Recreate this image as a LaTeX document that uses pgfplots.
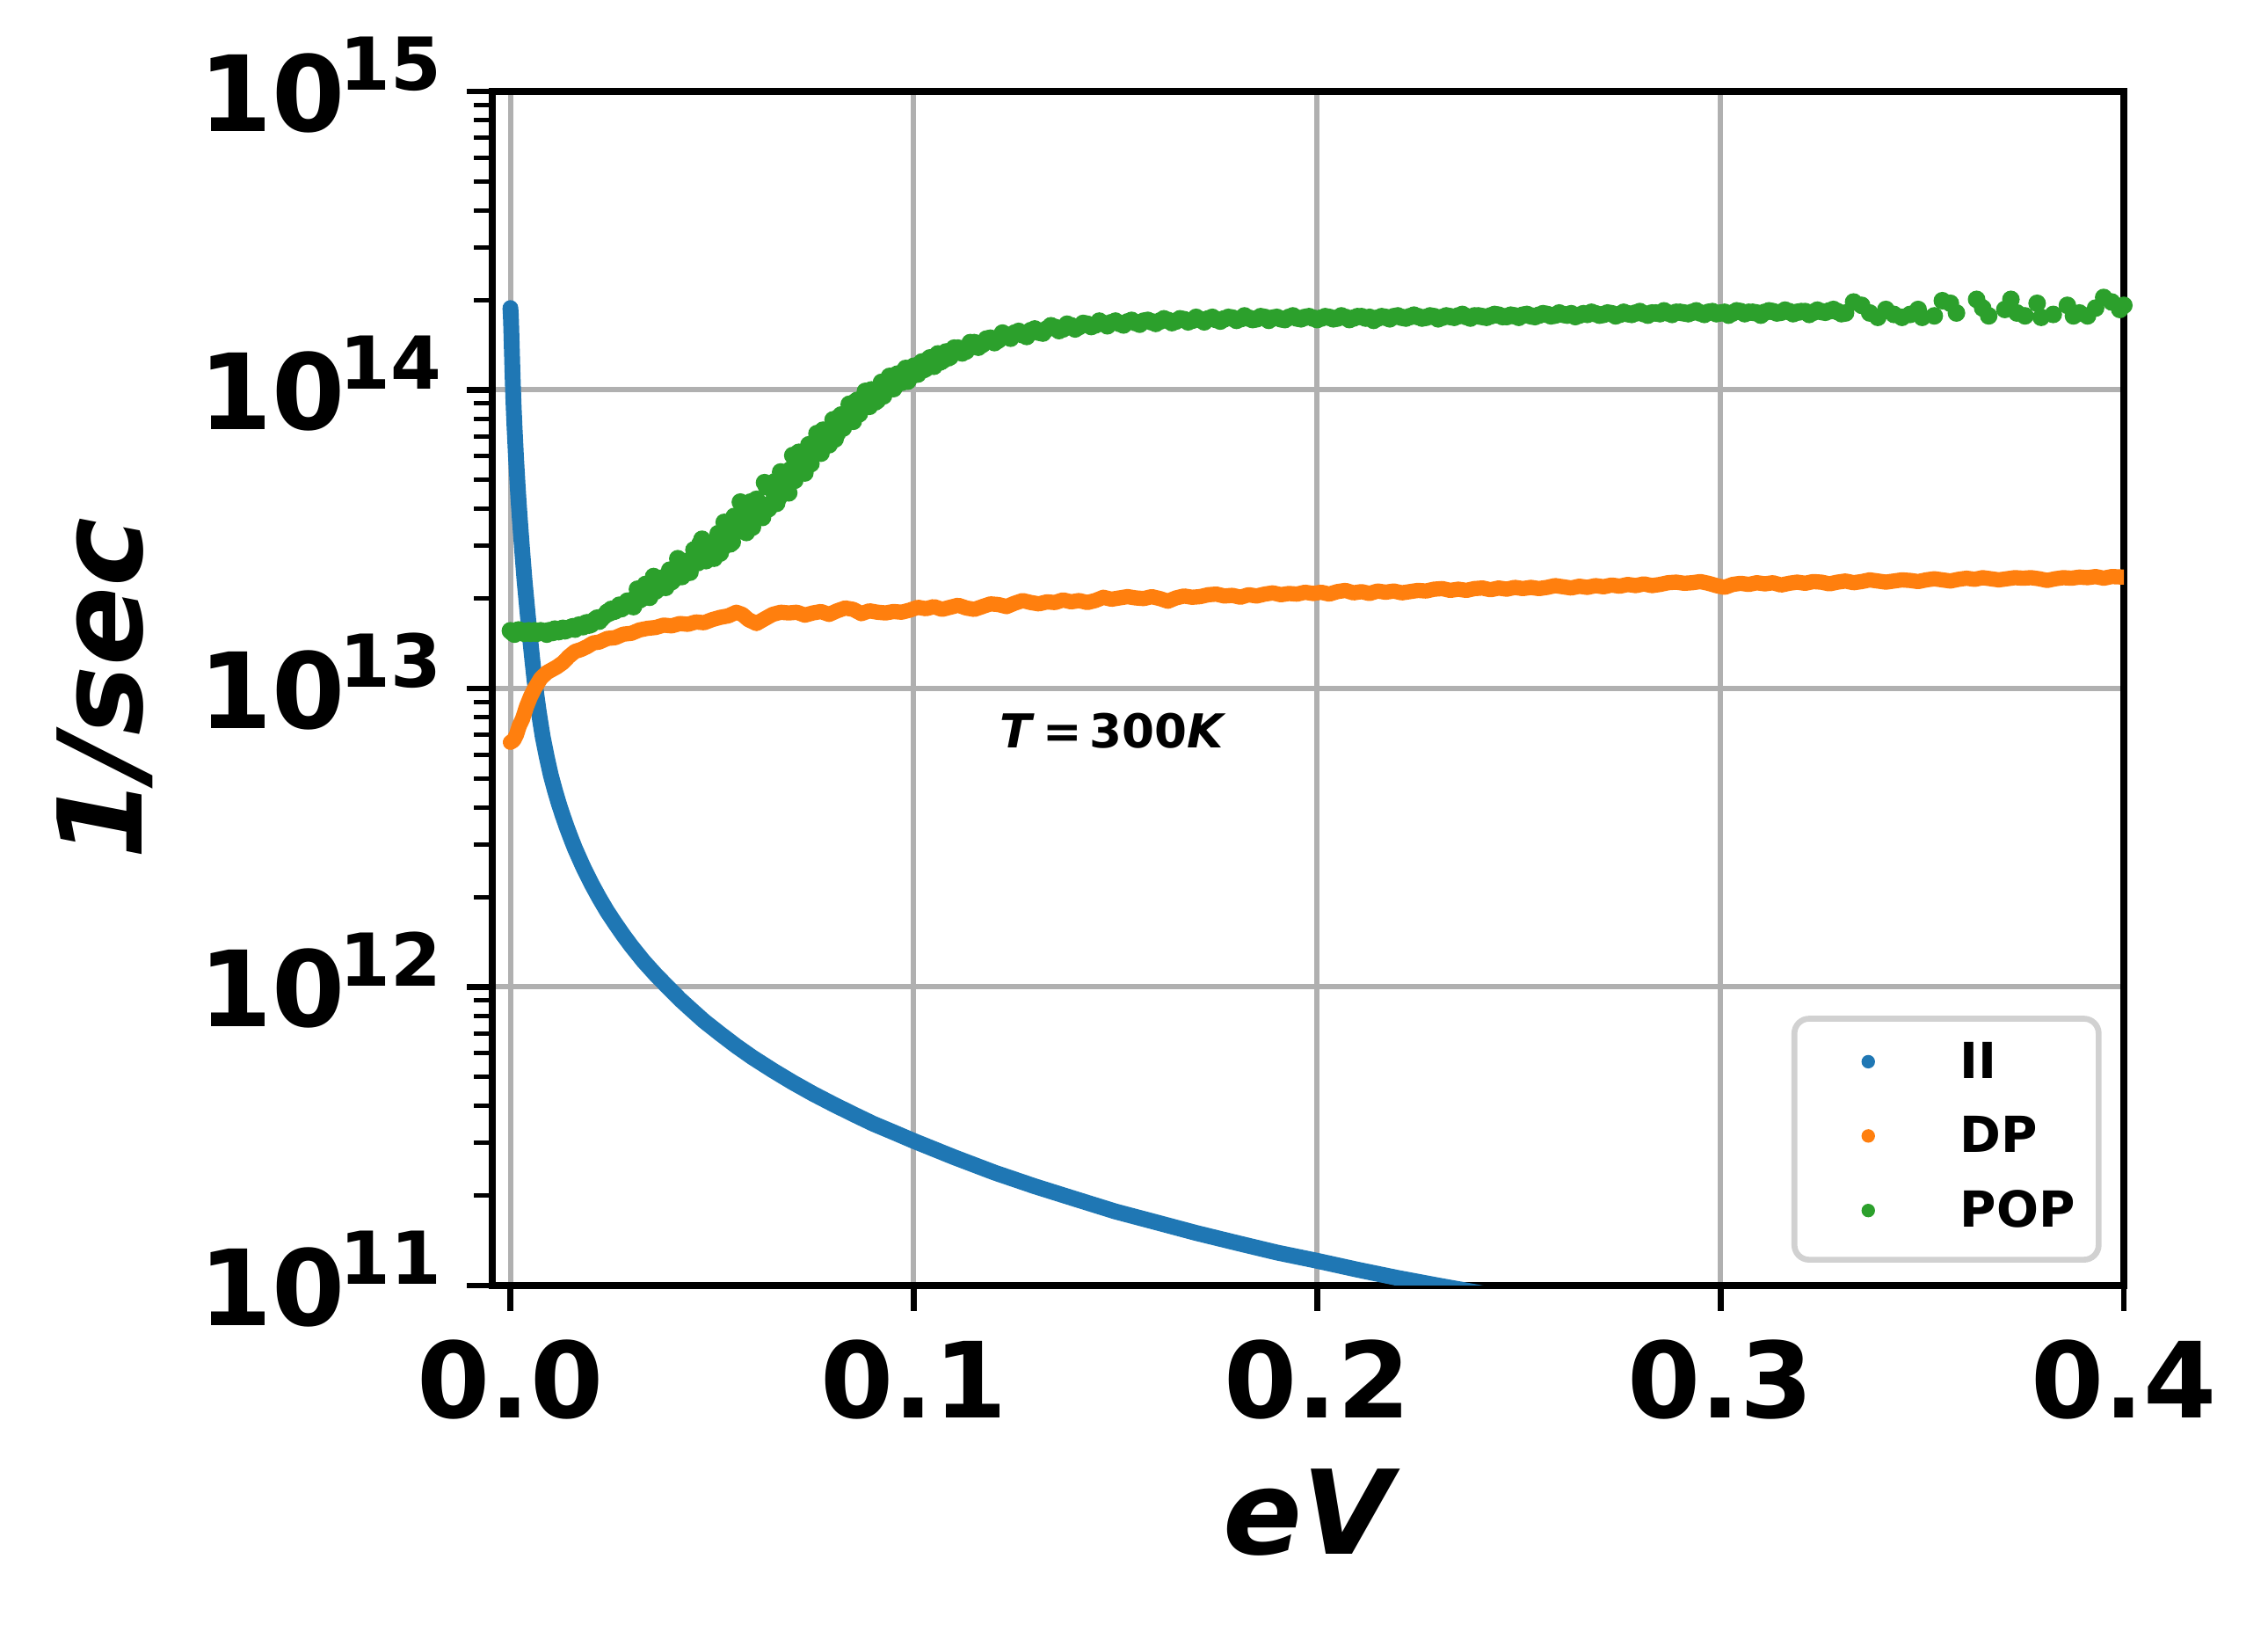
\documentclass[border=0pt]{standalone}
\usepackage{fontspec}
\setmainfont{DejaVu Sans}
\usepackage{pgfplots}
\pgfplotsset{compat=1.18}
\definecolor{c1}{HTML}{1F77B4}
\definecolor{c2}{HTML}{FF7F0E}
\definecolor{c3}{HTML}{2CA02C}
\newcommand{\tl}[1]{\fontsize{18}{18}\selectfont\bfseries 10\kern-0.9bp\raisebox{7bp}{\fontsize{12.5}{12.5}\selectfont\bfseries #1}}
\begin{document}
\begin{tikzpicture}
\useasboundingbox (-84bp,-59.1bp) rectangle (303bp,219.3bp);
\begin{axis}[
  at={(0,0)}, anchor=south west,
  scale only axis, width=278.4bp, height=203.7bp,
  xmin=-0.0045, xmax=0.4,
  ymode=log, ymin=1e11, ymax=1e15,
  xtick={0,0.1,0.2,0.3,0.4},
  xticklabels={0.0,0.1,0.2,0.3,0.4},
  ytick={1e11,1e12,1e13,1e14,1e15},
  yticklabels={\tl{11},\tl{12},\tl{13},\tl{14},\tl{15}},
  minor ytick={2e11,3e11,4e11,5e11,6e11,7e11,8e11,9e11,2e12,3e12,4e12,5e12,6e12,7e12,8e12,9e12,2e13,3e13,4e13,5e13,6e13,7e13,8e13,9e13,2e14,3e14,4e14,5e14,6e14,7e14,8e14,9e14},
  xtick pos=lower, ytick pos=lower,
  tick align=outside,
  major tick length=4.35bp, minor tick length=3.1bp,
  major tick style={line width=1bp, black},
  minor tick style={line width=0.75bp, black},
  axis line style={line width=1.1bp, black},
  grid=major,
  major grid style={line width=0.9bp, color=black!31},
  xticklabel style={font=\fontsize{18}{18}\selectfont\bfseries, anchor=north, inner sep=0pt, yshift=-4.8bp},
  yticklabel style={anchor=base east, inner sep=0pt, xshift=-4.1bp, yshift=-6.8bp},
  every axis x label/.style={at={(axis description cs:0.5,0)}, anchor=base, yshift=-45.9bp},
  every axis y label/.style={at={(axis description cs:0,0.5)}, rotate=90, anchor=base, yshift=59.7bp},
  xlabel={\fontsize{20}{20}\selectfont\bfseries\itshape eV},
  ylabel={\fontsize{20}{20}\selectfont\bfseries\itshape 1/sec},
  legend style={at={(axis description cs:1,0)}, anchor=south east, xshift=-3.8bp, yshift=3.9bp,
    draw=black!18, line width=1bp, rounded corners=2.5bp, fill=white,
    inner xsep=4bp, inner ysep=4bp,
    font=\fontsize{8.5}{8.5}\selectfont\bfseries,
    row sep=5bp, column sep=14.55bp,
    nodes={inner sep=0pt}},
  legend cell align=left,
]
\addplot[c1, line width=2.7bp, line cap=round, line join=round,
  legend image code/.code={\path[draw=none] (-8.6bp,0.5bp) -- (0bp,0.5bp); \fill[c1, draw=none] (0bp,0.5bp) circle (1.15bp);}]
coordinates {(0,1.88e14) (0.0001,1.78e14) (0.0002,1.62e14) (0.0003,1.45e14) (0.0004,1.3e14) (0.0005,1.16e14) (0.0006,1.05e14) (0.0007,9.6e13) (0.0008,8.8e13) (0.001,7.6e13) (0.0012,6.7e13) (0.0014,5.9e13) (0.0016,5.3e13) (0.0018,4.75e13) (0.002,4.3e13) (0.0023,3.75e13) (0.0026,3.3e13) (0.003,2.8e13) (0.0035,2.3e13) (0.004,1.95e13) (0.0045,1.65e13) (0.005,1.42e13) (0.0055,1.22e13) (0.006,1.06e13) (0.0065,9.4e12) (0.007,8.4e12) (0.0075,7.6e12) (0.008,6.9e12) (0.009,5.9e12) (0.01,5.13e12) (0.011,4.57e12) (0.012,4.11e12) (0.013,3.74e12) (0.014,3.42e12) (0.015,3.15e12) (0.016,2.91e12) (0.018,2.53e12) (0.02,2.23e12) (0.022,1.99e12) (0.024,1.79e12) (0.026,1.63e12) (0.028,1.49e12) (0.03,1.37e12) (0.033,1.22e12) (0.036,1.10e12) (0.039,1.0e12) (0.042,9.10e11) (0.045,8.36e11) (0.048,7.69e11) (0.052,6.97e11) (0.056,6.34e11) (0.06,5.81e11) (0.065,5.26e11) (0.07,4.79e11) (0.075,4.39e11) (0.08,4.05e11) (0.085,3.75e11) (0.09,3.48e11) (0.095,3.26e11) (0.1,3.05e11) (0.11,2.69e11) (0.12,2.39e11) (0.13,2.15e11) (0.14,1.95e11) (0.15,1.77e11) (0.16,1.63e11) (0.17,1.50e11) (0.18,1.39e11) (0.19,1.29e11) (0.2,1.21e11) (0.21,1.13e11) (0.22,1.06e11) (0.23,1.0e11) (0.25,8.95e10)};
\addlegendentry{II}
\addplot[c2, line width=2.6bp, line cap=round, line join=round,
  legend image code/.code={\path[draw=none] (-8.6bp,0.5bp) -- (0bp,0.5bp); \fill[c2, draw=none] (0bp,0.5bp) circle (1.15bp);}]
coordinates {(0,6.6e12) (0.0008,6.7e12) (0.0015,7.0e12) (0.0022,7.5e12) (0.003,7.9e12) (0.004,8.7e12) (0.005,9.4e12) (0.006,1.0e13) (0.0075,1.08e13) (0.009,1.13e13) (0.01,1.15e13) (0.0115,1.18e13) (0.013,1.22e13) (0.0145,1.28e13) (0.016,1.33e13) (0.0175,1.35e13) (0.019,1.38e13) (0.0205,1.42e13) (0.022,1.43e13) (0.024,1.47e13) (0.026,1.48e13) (0.028,1.52e13) (0.03,1.53e13) (0.032,1.57e13) (0.034,1.59e13) (0.036,1.60e13) (0.038,1.63e13) (0.04,1.62e13) (0.042,1.65e13) (0.044,1.64e13) (0.046,1.67e13) (0.048,1.66e13) (0.05,1.70e13) (0.052,1.73e13) (0.054,1.75e13) (0.056,1.80e13) (0.0575,1.77e13) (0.059,1.70e13) (0.061,1.65e13) (0.063,1.71e13) (0.065,1.77e13) (0.067,1.80e13) (0.069,1.79e13) (0.071,1.80e13) (0.073,1.76e13) (0.075,1.79e13) (0.077,1.81e13) (0.079,1.77e13) (0.081,1.82e13) (0.083,1.86e13) (0.085,1.84e13) (0.087,1.78e13) (0.089,1.82e13) (0.091,1.80e13) (0.093,1.79e13) (0.095,1.81e13) (0.097,1.80e13) (0.099,1.83e13) (0.101,1.87e13) (0.103,1.85e13) (0.105,1.88e13) (0.107,1.84e13) (0.109,1.87e13) (0.111,1.90e13) (0.113,1.86e13) (0.115,1.84e13) (0.117,1.88e13) (0.119,1.92e13) (0.121,1.91e13) (0.123,1.88e13) (0.125,1.93e13) (0.127,1.97e13) (0.129,1.94e13) (0.131,1.92e13) (0.133,1.95e13) (0.135,1.94e13) (0.137,1.98e13) (0.139,1.95e13) (0.141,1.97e13) (0.143,1.94e13) (0.145,1.97e13) (0.147,2.02e13) (0.149,1.99e13) (0.151,2.01e13) (0.153,2.03e13) (0.155,2.01e13) (0.157,2.00e13) (0.159,2.03e13) (0.161,2.00e13) (0.163,1.96e13) (0.165,2.01e13) (0.167,2.04e13) (0.169,2.02e13) (0.171,2.03e13) (0.173,2.06e13) (0.175,2.07e13) (0.177,2.04e13) (0.179,2.05e13) (0.181,2.02e13) (0.183,2.06e13) (0.185,2.04e13) (0.187,2.07e13) (0.189,2.09e13) (0.191,2.06e13) (0.193,2.08e13) (0.195,2.07e13) (0.197,2.10e13) (0.199,2.08e13) (0.201,2.10e13) (0.203,2.07e13) (0.205,2.11e13) (0.207,2.13e13) (0.209,2.09e13) (0.211,2.11e13) (0.213,2.08e13) (0.215,2.12e13) (0.217,2.10e13) (0.219,2.12e13) (0.221,2.09e13) (0.223,2.11e13) (0.225,2.13e13) (0.227,2.12e13) (0.229,2.15e13) (0.231,2.16e13) (0.233,2.13e13) (0.235,2.15e13) (0.237,2.13e13) (0.239,2.16e13) (0.241,2.17e13) (0.243,2.14e13) (0.245,2.17e13) (0.247,2.15e13) (0.249,2.18e13) (0.251,2.16e13) (0.253,2.18e13) (0.255,2.16e13) (0.257,2.18e13) (0.259,2.21e13) (0.261,2.19e13) (0.263,2.17e13) (0.265,2.20e13) (0.267,2.18e13) (0.269,2.21e13) (0.271,2.19e13) (0.273,2.22e13) (0.275,2.20e13) (0.277,2.23e13) (0.279,2.21e13) (0.281,2.24e13) (0.283,2.21e13) (0.285,2.23e13) (0.287,2.26e13) (0.289,2.27e13) (0.291,2.25e13) (0.293,2.26e13) (0.295,2.28e13) (0.297,2.25e13) (0.299,2.21e13) (0.301,2.18e13) (0.303,2.23e13) (0.305,2.25e13) (0.307,2.23e13) (0.309,2.26e13) (0.311,2.24e13) (0.313,2.26e13) (0.315,2.22e13) (0.317,2.25e13) (0.319,2.27e13) (0.321,2.25e13) (0.323,2.28e13) (0.325,2.27e13) (0.327,2.24e13) (0.329,2.27e13) (0.331,2.29e13) (0.333,2.26e13) (0.335,2.28e13) (0.337,2.31e13) (0.339,2.29e13) (0.341,2.27e13) (0.343,2.29e13) (0.345,2.31e13) (0.347,2.30e13) (0.349,2.28e13) (0.351,2.31e13) (0.353,2.33e13) (0.355,2.31e13) (0.357,2.29e13) (0.359,2.32e13) (0.361,2.34e13) (0.363,2.32e13) (0.365,2.35e13) (0.367,2.33e13) (0.369,2.31e13) (0.371,2.33e13) (0.373,2.35e13) (0.375,2.34e13) (0.377,2.35e13) (0.379,2.33e13) (0.381,2.30e13) (0.383,2.33e13) (0.385,2.35e13) (0.387,2.34e13) (0.389,2.36e13) (0.391,2.35e13) (0.393,2.37e13) (0.395,2.34e13) (0.397,2.37e13) (0.4,2.36e13)};
\addlegendentry{DP}
\addplot[only marks, mark=*, mark size=1.3bp, color=c3, mark options={draw=none, fill=c3},
  legend image code/.code={\path[draw=none] (-8.6bp,0.5bp) -- (0bp,0.5bp); \fill[c3, draw=none] (0bp,0.5bp) circle (1.15bp);}]
coordinates {(0,1.56e13) (0.001,1.52e13) (0.002,1.57e13) (0.003,1.54e13) (0.004,1.55e13) (0.005,1.53e13) (0.006,1.56e13) (0.007,1.54e13) (0.008,1.55e13) (0.009,1.52e13) (0.01,1.56e13) (0.011,1.58e13) (0.012,1.55e13) (0.013,1.59e13) (0.014,1.57e13) (0.015,1.60e13) (0.016,1.58e13) (0.017,1.63e13) (0.018,1.61e13) (0.019,1.66e13) (0.02,1.64e13) (0.021,1.70e13) (0.022,1.68e13) (0.023,1.74e13) (0.024,1.80e13) (0.025,1.84e13) (0.026,1.82e13) (0.027,1.90e13) (0.028,1.87e13) (0.029,1.96e13) (0.03,1.93e13) (0.031,2.01e13) (0.032,1.98e13) (0.033,2.10e13) (0.034,2.05e13) (0.035,2.20e13) (0.036,2.12e13) (0.037,2.30e13) (0.038,2.22e13) (0.039,2.40e13) (0.04,2.28e13) (0.041,2.48e13) (0.042,2.40e13) (0.043,2.62e13) (0.044,2.46e13) (0.045,2.62e13) (0.046,2.78e13) (0.047,3.05e13) (0.048,2.72e13) (0.049,2.95e13) (0.05,2.86e13) (0.051,3.03e13) (0.052,2.84e13) (0.053,3.60e13) (0.054,3.22e13) (0.055,3.09e13) (0.056,3.65e13) (0.057,4.21e13) (0.058,3.44e13) (0.059,3.87e13) (0.06,3.47e13) (0.061,4.30e13) (0.062,3.94e13) (0.063,4.89e13) (0.064,4.00e13) (0.065,4.62e13) (0.066,4.17e13) (0.067,5.31e13) (0.068,4.90e13) (0.069,4.52e13) (0.07,6.03e13) (0.071,5.18e13) (0.072,6.00e13) (0.073,5.27e13) (0.074,6.55e13) (0.075,6.03e13) (0.076,7.14e13) (0.077,6.14e13) (0.078,7.11e13) (0.079,6.55e13) (0.08,7.94e13) (0.081,7.13e13) (0.082,8.24e13) (0.083,7.74e13) (0.084,8.95e13) (0.085,7.85e13) (0.086,9.23e13) (0.087,8.61e13) (0.088,9.89e13) (0.089,8.81e13) (0.09,9.89e13) (0.091,9.23e13) (0.092,1.06e14) (0.093,9.89e13) (0.094,1.11e14) (0.095,1.01e14) (0.096,1.13e14) (0.097,1.06e14) (0.098,1.18e14) (0.099,1.10e14) (0.1,1.20e14) (0.101,1.13e14) (0.102,1.24e14) (0.103,1.18e14) (0.104,1.28e14) (0.105,1.20e14) (0.106,1.32e14) (0.107,1.25e14) (0.108,1.34e14) (0.109,1.29e14) (0.11,1.38e14) (0.112,1.33e14) (0.114,1.44e14) (0.116,1.39e14) (0.118,1.48e14) (0.12,1.44e14) (0.122,1.55e14) (0.124,1.49e14) (0.126,1.57e14) (0.128,1.51e14) (0.13,1.60e14) (0.132,1.55e14) (0.134,1.64e14) (0.136,1.58e14) (0.138,1.66e14) (0.14,1.60e14) (0.142,1.67e14) (0.144,1.63e14) (0.146,1.70e14) (0.148,1.64e14) (0.15,1.70e14) (0.152,1.65e14) (0.154,1.71e14) (0.156,1.66e14) (0.158,1.71e14) (0.16,1.67e14) (0.162,1.73e14) (0.164,1.68e14) (0.166,1.73e14) (0.168,1.69e14) (0.17,1.75e14) (0.172,1.69e14) (0.174,1.75e14) (0.176,1.70e14) (0.178,1.75e14) (0.18,1.71e14) (0.182,1.77e14) (0.184,1.72e14) (0.186,1.76e14) (0.188,1.71e14) (0.19,1.75e14) (0.192,1.72e14) (0.194,1.77e14) (0.196,1.73e14) (0.198,1.76e14) (0.2,1.72e14) (0.202,1.76e14) (0.204,1.73e14) (0.206,1.77e14) (0.208,1.72e14) (0.21,1.76e14) (0.212,1.74e14) (0.214,1.71e14) (0.216,1.76e14) (0.218,1.73e14) (0.22,1.77e14) (0.222,1.74e14) (0.224,1.78e14) (0.226,1.74e14) (0.228,1.77e14) (0.23,1.73e14) (0.232,1.77e14) (0.234,1.75e14) (0.236,1.79e14) (0.238,1.74e14) (0.24,1.77e14) (0.242,1.75e14) (0.244,1.79e14) (0.246,1.76e14) (0.248,1.78e14) (0.25,1.75e14) (0.252,1.79e14) (0.254,1.76e14) (0.256,1.80e14) (0.258,1.77e14) (0.26,1.81e14) (0.262,1.78e14) (0.264,1.76e14) (0.266,1.80e14) (0.268,1.82e14) (0.27,1.78e14) (0.272,1.81e14) (0.274,1.77e14) (0.276,1.82e14) (0.278,1.79e14) (0.28,1.83e14) (0.282,1.78e14) (0.284,1.81e14) (0.286,1.84e14) (0.288,1.79e14) (0.29,1.82e14) (0.292,1.80e14) (0.294,1.84e14) (0.296,1.79e14) (0.298,1.83e14) (0.3,1.81e14) (0.302,1.78e14) (0.304,1.84e14) (0.306,1.80e14) (0.308,1.82e14) (0.31,1.78e14) (0.312,1.84e14) (0.314,1.81e14) (0.316,1.85e14) (0.318,1.80e14) (0.32,1.83e14) (0.322,1.79e14) (0.324,1.85e14) (0.326,1.82e14) (0.328,1.86e14) (0.33,1.80e14) (0.331,1.81e14) (0.333,1.97e14) (0.335,1.92e14) (0.337,1.81e14) (0.339,1.75e14) (0.341,1.86e14) (0.343,1.79e14) (0.345,1.75e14) (0.347,1.79e14) (0.349,1.86e14) (0.35,1.75e14) (0.353,1.77e14) (0.355,1.99e14) (0.357,1.95e14) (0.3585,1.81e14) (0.3635,2.01e14) (0.365,1.88e14) (0.3665,1.77e14) (0.3705,1.86e14) (0.372,2.01e14) (0.3735,1.81e14) (0.3755,1.77e14) (0.3785,1.95e14) (0.3795,1.75e14) (0.3825,1.79e14) (0.386,1.92e14) (0.3875,1.77e14) (0.389,1.81e14) (0.391,1.77e14) (0.393,1.88e14) (0.395,2.04e14) (0.397,1.97e14) (0.399,1.86e14) (0.4,1.92e14)};
\addlegendentry{POP}
\addplot[forget plot, only marks, mark=*, mark size=1.3bp, color=c3, mark options={draw=none, fill=c3}]
coordinates {(0.0005,1.54e13) (0.0015,1.55e13) (0.0025,1.56e13) (0.0035,1.53e13) (0.0045,1.56e13) (0.0055,1.55e13) (0.0065,1.53e13) (0.0075,1.56e13) (0.0085,1.54e13) (0.0095,1.56e13) (0.0105,1.54e13) (0.0115,1.56e13) (0.0125,1.58e13) (0.0135,1.56e13) (0.0145,1.59e13) (0.0155,1.61e13) (0.0165,1.60e13) (0.0175,1.62e13) (0.0185,1.65e13) (0.0195,1.63e13) (0.0205,1.67e13) (0.0215,1.72e13) (0.0225,1.71e13) (0.0235,1.76e13) (0.0245,1.79e13) (0.0255,1.81e13) (0.0265,1.86e13) (0.0275,1.85e13) (0.0285,1.91e13) (0.0295,1.92e13) (0.0305,1.88e13) (0.0315,2.15e13) (0.0325,2.0e13) (0.0335,2.23e13) (0.0345,2.02e13) (0.0355,2.37e13) (0.0365,2.15e13) (0.0375,2.34e13) (0.0385,2.18e13) (0.0395,2.49e13) (0.0405,2.32e13) (0.0415,2.72e13) (0.0425,2.37e13) (0.0435,2.66e13) (0.0445,2.45e13) (0.0455,2.91e13) (0.0465,2.64e13) (0.0475,3.16e13) (0.0485,2.68e13) (0.0495,3.06e13) (0.0505,2.73e13) (0.0515,3.30e13) (0.0525,2.95e13) (0.0535,3.40e13) (0.0545,3.05e13) (0.0555,3.77e13) (0.0565,3.37e13) (0.0575,3.80e13) (0.0585,3.33e13) (0.0595,4.21e13) (0.0605,3.68e13) (0.0615,4.17e13) (0.0625,3.74e13) (0.0635,4.74e13) (0.0645,4.16e13) (0.0655,4.92e13) (0.0665,4.35e13) (0.0675,5.16e13) (0.0685,4.55e13) (0.0695,5.41e13) (0.0705,4.98e13) (0.0715,6.18e13) (0.0725,5.43e13) (0.0735,6.15e13) (0.0745,5.66e13) (0.0755,6.71e13) (0.0765,6.18e13) (0.0775,7.33e13) (0.0785,6.59e13) (0.0795,7.46e13) (0.0805,6.85e13) (0.0815,8.11e13) (0.0825,7.45e13) (0.0835,8.41e13) (0.0845,7.91e13) (0.0855,9.12e13) (0.0865,8.32e13) (0.0875,9.33e13) (0.0885,8.91e13) (0.0895,1.0e14) (0.0905,9.12e13) (0.0915,1.02e14) (0.0925,9.55e13) (0.0935,1.07e14) (0.0945,1.02e14) (0.0955,1.12e14) (0.0965,1.06e14) (0.0975,1.14e14) (0.0985,1.07e14) (0.0995,1.18e14) (0.1005,1.13e14) (0.1015,1.22e14) (0.1025,1.17e14) (0.1035,1.26e14) (0.1045,1.21e14) (0.1055,1.30e14) (0.1065,1.24e14) (0.1075,1.32e14) (0.1085,1.28e14) (0.111,1.38e14) (0.113,1.35e14) (0.115,1.44e14) (0.117,1.42e14) (0.119,1.49e14) (0.121,1.47e14) (0.123,1.52e14) (0.125,1.55e14) (0.127,1.53e14) (0.129,1.58e14) (0.131,1.56e14) (0.133,1.60e14) (0.135,1.62e14) (0.137,1.60e14) (0.139,1.64e14) (0.141,1.63e14) (0.143,1.66e14) (0.145,1.65e14) (0.147,1.67e14) (0.149,1.68e14) (0.151,1.67e14) (0.153,1.69e14) (0.155,1.68e14) (0.157,1.70e14) (0.159,1.69e14) (0.161,1.70e14) (0.163,1.71e14) (0.165,1.70e14) (0.167,1.72e14) (0.169,1.71e14) (0.171,1.72e14) (0.173,1.73e14) (0.175,1.72e14) (0.177,1.73e14) (0.179,1.74e14) (0.181,1.73e14) (0.183,1.74e14) (0.185,1.73e14) (0.187,1.75e14) (0.189,1.74e14) (0.191,1.73e14) (0.193,1.75e14) (0.195,1.74e14) (0.197,1.75e14) (0.199,1.74e14) (0.201,1.74e14) (0.203,1.75e14) (0.205,1.74e14) (0.207,1.75e14) (0.209,1.74e14) (0.211,1.76e14) (0.213,1.75e14) (0.215,1.74e14) (0.217,1.75e14) (0.219,1.76e14) (0.221,1.75e14) (0.223,1.76e14) (0.225,1.76e14) (0.227,1.75e14) (0.229,1.76e14) (0.231,1.75e14) (0.233,1.76e14) (0.235,1.77e14) (0.237,1.76e14) (0.239,1.77e14) (0.241,1.76e14) (0.243,1.77e14) (0.245,1.78e14) (0.247,1.76e14) (0.249,1.77e14) (0.251,1.78e14) (0.253,1.77e14) (0.255,1.78e14) (0.257,1.79e14) (0.259,1.78e14) (0.261,1.79e14) (0.263,1.80e14) (0.265,1.78e14) (0.267,1.79e14) (0.269,1.80e14) (0.271,1.79e14) (0.273,1.80e14) (0.275,1.79e14) (0.277,1.80e14) (0.279,1.81e14) (0.281,1.80e14) (0.283,1.81e14) (0.285,1.80e14) (0.287,1.81e14) (0.289,1.82e14) (0.291,1.81e14) (0.293,1.82e14) (0.295,1.81e14) (0.297,1.82e14) (0.299,1.80e14) (0.301,1.82e14) (0.303,1.81e14) (0.305,1.83e14) (0.307,1.82e14) (0.309,1.81e14) (0.311,1.82e14) (0.313,1.83e14) (0.315,1.82e14) (0.317,1.83e14) (0.319,1.82e14) (0.321,1.83e14) (0.323,1.82e14) (0.325,1.83e14) (0.327,1.84e14) (0.329,1.83e14)};
\node[font=\fontsize{8}{8}\selectfont\bfseries, inner sep=0pt] at (axis cs:0.1495,7.2e12) {\textit{T}\,=\,300\textit{K}};
\end{axis}
\end{tikzpicture}
\end{document}
